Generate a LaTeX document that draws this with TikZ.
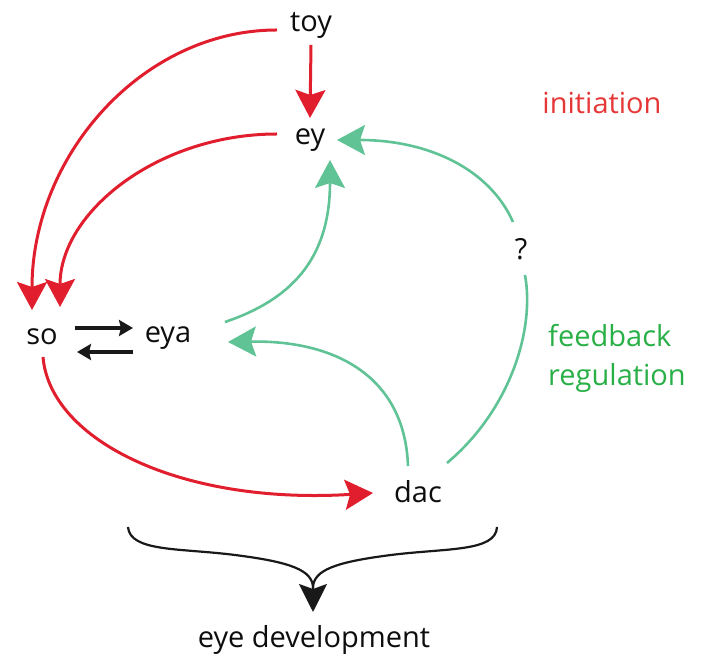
\documentclass[tikz,border=0pt]{standalone}
\usepackage{fontspec}
\setmainfont{Open Sans}
\usepackage{xcolor}
\usetikzlibrary{arrows.meta,positioning}
\definecolor{actred}{RGB}{225,30,45}
\definecolor{fbgreen}{RGB}{95,195,150}
\definecolor{lblred}{RGB}{230,55,55}
\definecolor{lblgreen}{RGB}{40,175,70}

\begin{document}
\begin{tikzpicture}[x=0.5pt,y=-0.5pt,
every node/.style = {font=\fontsize{14.5}{19.5}\selectfont, inner sep=0pt, text=black!95},
init/.style={draw=actred,line width=1.5pt,-{Stealth[length=14pt,width=15pt,inset=2.5pt]}},
feedback/.style={draw=fbgreen,line width=1.3pt,-{Stealth[length=14pt,width=15pt,inset=2.5pt]}},
plainfb/.style={draw=fbgreen,line width=1.3pt},
bind/.style={draw=black!90,line width=1.6pt,-{Stealth[length=7pt,width=8pt,inset=1pt]}},
outcome/.style={draw=black!90,line width=1.1pt}]
\useasboundingbox (0,0) rectangle (702,656);

% genes
\node (toy) at (311,25) {toy};
\node (ey) at (310,140) {ey};
\node (so) at (42,337) {so};
\node (eya) at (168,338) {eya};
\node (dac) at (418,492) {dac};
\node (q) at (521,249) {?};
\node (dev) at (314,640) {eye development};

% labels
\node [text=lblred] (init-lbl) at (602,103) {initiation};
\node [text=lblgreen, align=left] (fb-lbl) at (617,358) {feedback\\regulation};

% initiation
\draw[init] ([shift={(0,20)}]toy.center) -- ([shift={(0,-22)}]ey.center);
\draw[init] ([shift={(-34,5)}]toy.center) .. controls +(-135,0) and +(0,-154) .. ([shift={(-10,-27)}]so.center);
\draw[init] ([shift={(-33,-6)}]ey.center) .. controls +(-119,0) and +(0,-95) .. ([shift={(18,-30)}]so.center);
\draw[init] ([shift={(1,20)}]so.center) .. controls +(7,83) and +(-193,12) .. ([shift={(-45,1)}]dac.center);

% so / eya
\draw[bind] ([shift={(33,-9)}]so.center) -- ([shift={(-35,-10)}]eya.center);
\draw[bind] ([shift={(-35,14)}]eya.center) -- ([shift={(35,15)}]so.center);

% feedback
\draw[feedback] ([shift={(57,-16)}]eya.center) .. controls +(65,-22) and +(0,100) .. ([shift={(20,20)}]ey.center);
\draw[feedback] ([shift={(-10,-26)}]dac.center) .. controls +(-3,-86) and +(112,-2) .. ([shift={(60,4)}]eya.center);
\draw[plainfb] ([shift={(29,-29)}]dac.center) .. controls +(63,-53) and +(10,55) .. ([shift={(4,26)}]q.center);
\draw[feedback] ([shift={(-8,-27)}]q.center) .. controls +(-23,-52) and +(93,0) .. ([shift={(27,0)}]ey.center);

% eye development
\coordinate (brace-l) at (128,527);
\coordinate (brace-r) at (497,527);
\coordinate (brace-m) at (313,588);
\draw[outcome] (brace-l) .. controls (130,552) and (180,548) .. (235,555) .. controls (290,562) and (313,570) .. (brace-m);
\draw[outcome] (brace-r) .. controls (496,552) and (446,548) .. (391,555) .. controls (336,562) and (313,570) .. (brace-m);
\draw[outcome,-{Stealth[length=14pt,width=14pt,inset=2.5pt]}] (brace-m) -- ([shift={(-1,-28)}]dev.center);
\end{tikzpicture}
\end{document}
